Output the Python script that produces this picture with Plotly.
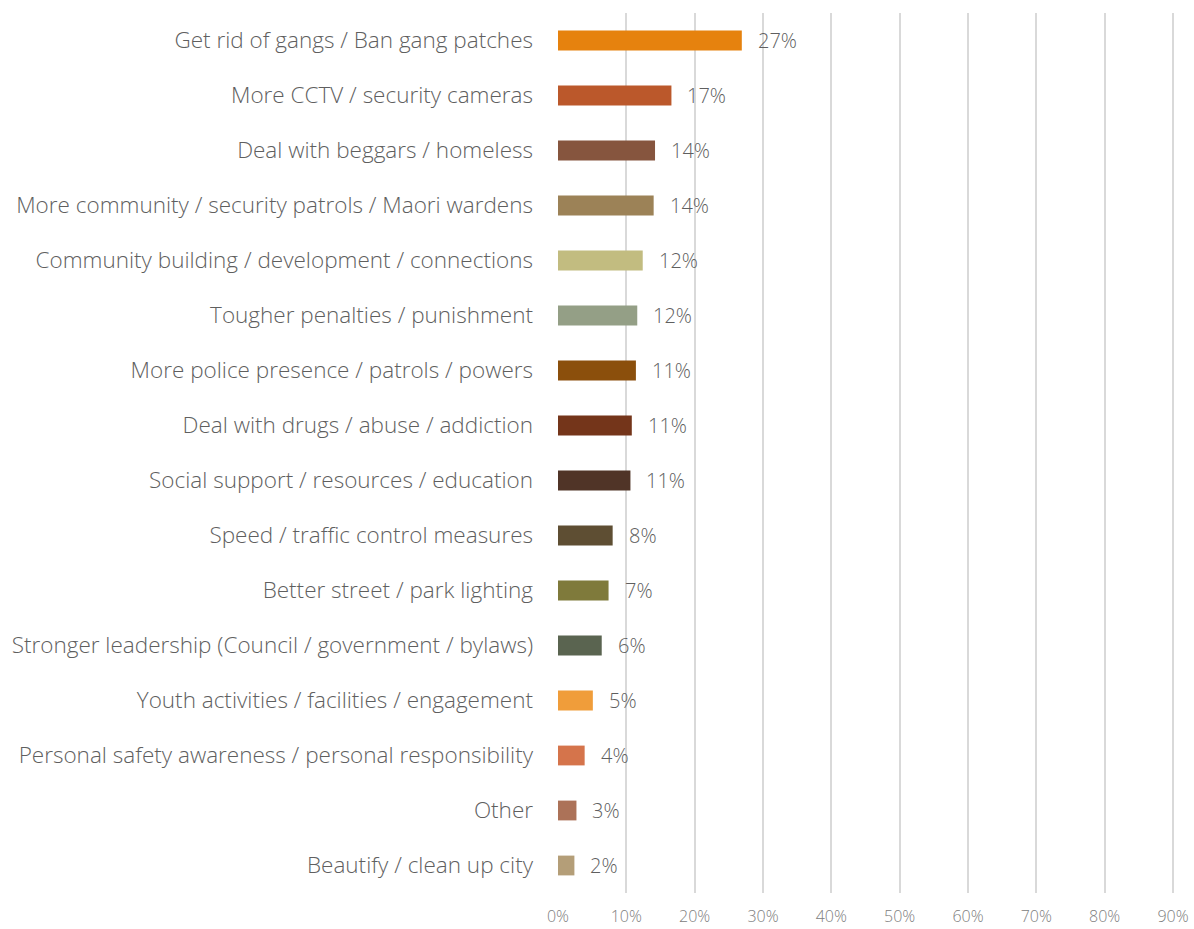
import plotly.graph_objects as go

# Suggested improvements for community safety (share of respondents, %)
categories = [
    "Get rid of gangs / Ban gang patches",
    "More CCTV / security cameras",
    "Deal with beggars / homeless",
    "More community / security patrols / Maori wardens",
    "Community building / development / connections",
    "Tougher penalties / punishment",
    "More police presence / patrols / powers",
    "Deal with drugs / abuse / addiction",
    "Social support / resources / education",
    "Speed / traffic control measures",
    "Better street / park lighting",
    "Stronger leadership (Council / government / bylaws)",
    "Youth activities / facilities / engagement",
    "Personal safety awareness / personal responsibility",
    "Other",
    "Beautify / clean up city",
]
values = [26.9, 16.6, 14.2, 14.0, 12.4, 11.6, 11.4, 10.8, 10.6,
          8.0, 7.4, 6.4, 5.1, 3.9, 2.7, 2.4]
colors = [
    "#E6820E", "#BB582B", "#86553E", "#9C8257", "#C2BC80", "#949F86",
    "#8B4F0C", "#74351A", "#503427", "#5E4E33", "#7F7A3B", "#5A6450",
    "#F09D3A", "#D5744B", "#AC7258", "#B49E78",
]
x_ticks = [0, 10, 20, 30, 40, 50, 60, 70, 80, 90]
x_tick_labels = [f"{t}%" for t in x_ticks]

labels = [f"{int(v + 0.5)}%" for v in values]

FONT = "Open Sans, Lato, sans-serif"

fig = go.Figure(
    go.Bar(
        x=values,
        y=categories,
        orientation="h",
        marker=dict(color=colors, line=dict(width=0)),
        hoverinfo="skip",
    )
)

for cat, v, lab in zip(categories, values, labels):
    fig.add_annotation(
        x=v, y=cat, text=lab, showarrow=False,
        xanchor="left", xshift=14,
        font=dict(family=FONT, size=20, color="#5f5f5f", weight=300),
    )

fig.update_layout(
    width=1194,
    height=929,
    margin=dict(l=558, r=20, t=13, b=36),
    paper_bgcolor="white",
    plot_bgcolor="white",
    bargap=0.64,
    showlegend=False,
    font=dict(family=FONT, color="#5f5f5f"),
)
fig.update_xaxes(
    range=[0, 90.15],
    tickvals=x_ticks,
    ticktext=x_tick_labels,
    showgrid=True,
    gridcolor="#D9D9D9",
    gridwidth=2,
    zeroline=False,
    showline=False,
    ticks="",
    automargin=False,
    ticklabelstandoff=12,
    tickfont=dict(family=FONT, size=16, color="#808080", weight=300),
    fixedrange=True,
)
fig.update_yaxes(
    categoryorder="array",
    categoryarray=categories[::-1],
    autorange=True,
    showgrid=False,
    zeroline=False,
    showline=False,
    ticks="",
    automargin=False,
    ticklabelstandoff=24,
    tickfont=dict(family=FONT, size=22.5, color="#5f5f5f", weight=300),
    fixedrange=True,
)

fig.write_html("out.html")
